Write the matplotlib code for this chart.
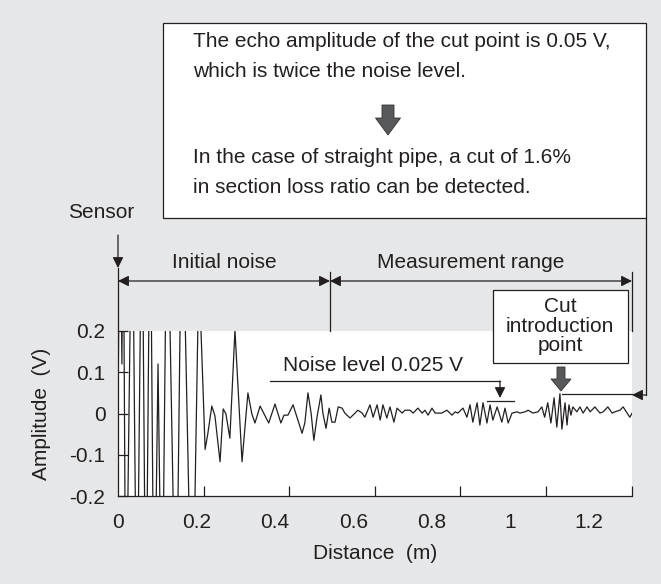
import numpy as np
import matplotlib.pyplot as plt
from matplotlib.patches import Rectangle, FancyArrow

plt.rcParams['font.family'] = ['Liberation Sans', 'DejaVu Sans']
plt.rcParams['axes.unicode_minus'] = False

# echo waveform (distance in m, amplitude in V)
distance_m = [
    0.000, 0.005, 0.010, 0.013, 0.020, 0.036, 0.048, 0.061, 0.071, 0.082,
    0.092, 0.102, 0.112, 0.125, 0.148, 0.163, 0.189, 0.206, 0.222, 0.229,
    0.239, 0.247, 0.260, 0.268, 0.275, 0.285, 0.298, 0.316, 0.331, 0.341,
    0.349, 0.362, 0.384, 0.400, 0.415, 0.423, 0.433, 0.446, 0.456, 0.469,
    0.476, 0.484, 0.492, 0.499, 0.507, 0.517, 0.522, 0.530, 0.538, 0.545,
    0.553, 0.561, 0.571, 0.578, 0.591, 0.604, 0.611, 0.622, 0.629, 0.642,
    0.650, 0.660, 0.668, 0.675, 0.685, 0.693, 0.703, 0.711, 0.724, 0.731,
    0.744, 0.752, 0.764, 0.775, 0.782, 0.790, 0.800, 0.808, 0.825, 0.838,
    0.851, 0.859, 0.866, 0.879, 0.889, 0.897, 0.904, 0.915, 0.922, 0.930,
    0.940, 0.948, 0.955, 0.966, 0.978, 0.986, 0.994, 1.004, 1.017, 1.024,
    1.037, 1.045, 1.057, 1.070, 1.080, 1.087, 1.095, 1.103, 1.111, 1.118,
    1.126, 1.131, 1.139, 1.144, 1.149, 1.154, 1.159, 1.169, 1.177, 1.185,
    1.195, 1.203, 1.215, 1.228, 1.236, 1.248, 1.259, 1.266, 1.279, 1.287,
    1.297, 1.304, 1.310]
amplitude_v = [
    0.000, 0.60, 0.12, 0.60, -0.60, 0.60, -0.60, 0.60, -0.60, 0.60,
    -0.60, 0.12, -0.60, 0.60, -0.60, 0.60, -0.60, 0.35, -0.087, -0.048,
    0.018, -0.006, -0.117, 0.011, -0.001, -0.060, 0.202, -0.117, 0.050, -0.001,
    -0.023, 0.018, -0.023, 0.023, -0.023, -0.004, -0.004, 0.021, -0.009, -0.048,
    -0.023, 0.050, 0.001, -0.065, -0.009, 0.045, 0.001, -0.036, 0.013, -0.021,
    -0.021, 0.016, 0.013, 0.001, -0.011, 0.001, 0.008, 0.001, -0.009, 0.021,
    -0.009, 0.021, -0.016, 0.021, -0.011, 0.016, -0.021, 0.013, 0.001, 0.008,
    0.008, 0.001, 0.013, 0.001, 0.008, -0.004, 0.013, 0.001, 0.001, 0.008,
    -0.004, 0.004, 0.001, 0.013, -0.009, 0.021, -0.021, 0.026, -0.028, 0.026,
    -0.023, 0.021, -0.016, 0.016, -0.021, 0.013, -0.023, 0.001, 0.004, 0.001,
    0.004, 0.008, 0.001, 0.004, 0.016, -0.009, 0.026, -0.023, 0.038, -0.033,
    0.048, -0.038, 0.026, -0.028, 0.021, -0.004, 0.016, 0.004, 0.016, 0.001,
    0.016, 0.004, 0.016, 0.001, 0.004, 0.016, 0.001, 0.004, 0.008, 0.016,
    0.001, -0.009, 0.001]

x_labels = ["0", "0.2", "0.4", "0.6", "0.8", "1", "1.2"]
x_label_pos = [0, 0.2, 0.4, 0.6, 0.8, 1.0, 1.2]
x_tick_marks = [0.218, 0.436, 0.654, 0.872, 1.090, 1.309]
y_ticks = [-0.2, -0.1, 0, 0.1, 0.2]
y_labels = ["-0.2", "-0.1", "0", "0.1", "0.2"]
noise_marker = 0.030
noise_span = [0.940, 1.008]
cut_peak = (1.126, 0.048)

BG = '#e6e7e8'
INK = '#231f20'
FS = 15

fig = plt.figure(figsize=(6.61, 5.84), dpi=100, facecolor=BG)
ax = fig.add_axes([118 / 661, 1 - 496 / 584, 514 / 661, 165 / 584])
ax.plot(distance_m, amplitude_v, color=INK, lw=0.9)
ax.set_xlim(0, 1.3096)
ax.set_ylim(-0.2, 0.2)
for s in ['top', 'right']:
    ax.spines[s].set_visible(False)
for s in ['left', 'bottom']:
    ax.spines[s].set_color(INK)
    ax.spines[s].set_linewidth(0.9)

ax.set_xticks(x_label_pos)
ax.set_xticklabels(x_labels)
ax.set_xticks(x_tick_marks, minor=True)
ax.tick_params(axis='x', which='major', length=0, pad=12, labelsize=FS, colors=INK)
ax.tick_params(axis='x', which='minor', direction='in', length=7, width=0.9, colors=INK)
ax.set_yticks(y_ticks)
ax.set_yticklabels(y_labels)
ax.tick_params(axis='y', direction='in', length=7, width=0.9, pad=9, labelsize=FS, colors=INK)
ax.set_xlabel("Distance  (m)", fontsize=FS, color=INK, labelpad=9)
ax.set_ylabel("Amplitude  (V)", fontsize=FS, color=INK, labelpad=13)

# noise level marker and cut echo reference line
ax.plot(noise_span, [noise_marker, noise_marker], color=INK, lw=0.9)
ax.plot([cut_peak[0] + 0.004, 1.3096], [cut_peak[1], cut_peak[1]], color=INK, lw=0.9,
        clip_on=False)

# overlay in pixel units for callouts
ov = fig.add_axes([0, 0, 1, 1])
ov.set_xlim(0, 661)
ov.set_ylim(584, 0)
ov.axis('off')
ov.patch.set_visible(False)

arr = dict(arrowstyle='-|>', color=INK, lw=0.9, shrinkA=0, shrinkB=0, mutation_scale=16)
darr = dict(arrowstyle='<|-|>', color=INK, lw=0.9, shrinkA=0, shrinkB=0, mutation_scale=16)

# top explanation box
ov.add_patch(Rectangle((163, 23), 483, 195, fc='white', ec=INK, lw=0.9))
ov.text(193, 47, "The echo amplitude of the cut point is 0.05 V,", fontsize=FS, color=INK)
ov.text(193, 77, "which is twice the noise level.", fontsize=FS, color=INK)
ov.text(193, 163, "In the case of straight pipe, a cut of 1.6%", fontsize=FS, color=INK)
ov.text(193, 193, "in section loss ratio can be detected.", fontsize=FS, color=INK)
ov.add_patch(FancyArrow(388, 105, 0, 30, width=12, head_width=25, head_length=17,
                        length_includes_head=True, fc='#58595b', ec='#333333', lw=0.6))

# bracket from box down to the cut echo
ov.plot([646, 646], [218, 395], color=INK, lw=0.9)
ov.annotate('', xy=(632, 395), xytext=(646, 395), arrowprops=arr)

# sensor
ov.text(101, 218, "Sensor", fontsize=FS, color=INK, ha='center')
ov.annotate('', xy=(118, 268), xytext=(118, 235), arrowprops=arr)

# ranges
ov.plot([118, 118], [268, 331], color=INK, lw=0.9)
ov.plot([330, 330], [272, 331], color=INK, lw=0.9)
ov.plot([632, 632], [272, 331], color=INK, lw=0.9)
ov.annotate('', xy=(118, 281), xytext=(330, 281), arrowprops=darr)
ov.annotate('', xy=(330, 281), xytext=(632, 281), arrowprops=darr)
ov.text(224, 268, "Initial noise", fontsize=FS, color=INK, ha='center')
ov.text(471, 268, "Measurement range", fontsize=FS, color=INK, ha='center')

# noise level callout
ov.text(283, 371, "Noise level 0.025 V", fontsize=FS, color=INK)
ov.plot([270, 500], [381, 381], color=INK, lw=0.9)
ov.annotate('', xy=(500, 398), xytext=(500, 381), arrowprops=arr)

# cut introduction point box
ov.add_patch(Rectangle((493, 290), 135, 73, fc='white', ec=INK, lw=0.9))
ov.text(560, 326, "Cut\nintroduction\npoint", fontsize=FS, color=INK, ha='center',
        va='center', linespacing=1.05)
ov.add_patch(FancyArrow(561, 367, 0, 24, width=8, head_width=20, head_length=12,
                        length_includes_head=True, fc='#58595b', ec='#333333', lw=0.6))

fig.savefig('out.png', dpi=100, facecolor=BG)
